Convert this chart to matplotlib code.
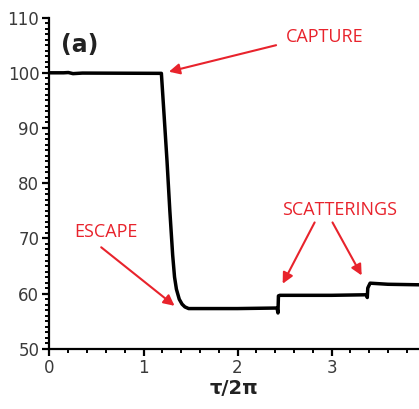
import matplotlib
matplotlib.use("Agg")
import matplotlib.pyplot as plt
from matplotlib.ticker import MultipleLocator

# ── data ─────────────────────────────────────────────────────────────────────
t = [0.00, 0.15, 0.20, 0.25, 0.30, 0.35, 1.19, 1.22, 1.25, 1.28, 1.31, 1.33,
     1.35, 1.38, 1.41, 1.44, 1.48, 2.00, 2.42, 2.43, 2.435, 2.45, 3.00, 3.37,
     3.38, 3.385, 3.39, 3.41, 3.60, 3.95]
ratio = [100.0, 100.0, 100.05, 99.85, 99.9, 99.95, 99.9, 92.0, 84.0, 75.0,
         67.0, 63.0, 60.8, 59.0, 58.1, 57.6, 57.3, 57.3, 57.4, 56.5, 59.6,
         59.7, 59.7, 59.8, 59.3, 61.0, 61.2, 61.9, 61.7, 61.6]

xticks = [0, 1, 2, 3]
yticks = [50, 60, 70, 80, 90, 100, 110]

RED = "#e8232c"

fig = plt.figure(figsize=(4.19, 4.09), dpi=100)
ax = fig.add_axes([0.117, 0.147, 0.883, 0.81])

ax.plot(t, ratio, color="black", lw=2.5, solid_joinstyle="round")

ax.set_xlim(-0.005, 3.93)
ax.set_ylim(50, 110)
ax.set_xticks(xticks)
ax.set_yticks(yticks)
ax.xaxis.set_minor_locator(MultipleLocator(0.2))
ax.yaxis.set_minor_locator(MultipleLocator(1))

for s in ["top", "right"]:
    ax.spines[s].set_visible(False)
for s in ["left", "bottom"]:
    ax.spines[s].set_linewidth(1.6)

ax.tick_params(which="major", length=5, width=1.6, labelsize=12,
               labelcolor="#3a3a3a", pad=2)
ax.tick_params(which="minor", length=3, width=1.4)

ax.set_xlabel("τ/2π", fontsize=14, fontweight="bold", color="#222222",
              labelpad=2)

ax.text(0.32, 105.1, "(a)", fontsize=17, fontweight="bold", color="#222222",
        ha="center", va="center")

arrow = dict(arrowstyle="-|>", color=RED, lw=1.5, mutation_scale=16,
             shrinkA=0, shrinkB=0)
lab = dict(fontsize=13, color=RED, family="Open Sans", ha="center",
           va="center")

ax.annotate("", xy=(1.27, 100.2), xytext=(2.41, 105.0), arrowprops=arrow)
ax.text(2.93, 106.4, "CAPTURE", **lab)

ax.annotate("", xy=(1.33, 57.8), xytext=(0.55, 68.4), arrowprops=arrow)
ax.text(0.6, 71.1, "ESCAPE", **lab)

ax.annotate("", xy=(2.48, 61.8), xytext=(2.82, 72.9), arrowprops=arrow)
ax.annotate("", xy=(3.32, 63.3), xytext=(3.01, 72.9), arrowprops=arrow)
ax.text(3.08, 75.1, "SCATTERINGS", **lab)

fig.savefig("out.png", dpi=100)
